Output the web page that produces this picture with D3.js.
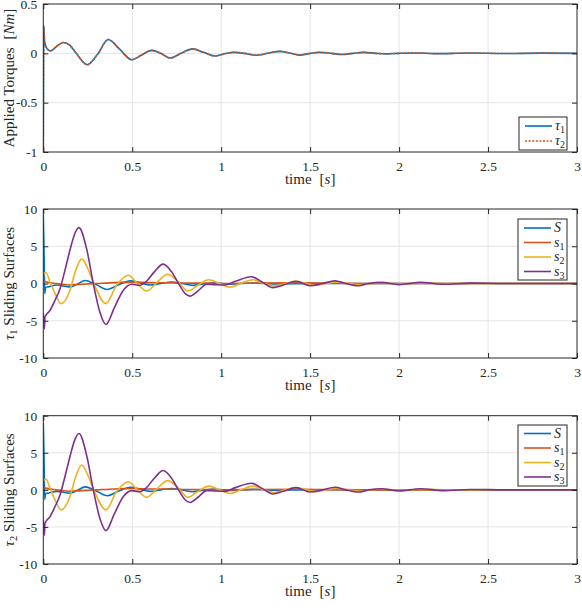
<!DOCTYPE html>
<html><head><meta charset="utf-8">
<script src="https://cdn.jsdelivr.net/npm/d3@7"></script>
<style>
body{margin:0;background:#fff}
svg{display:block}
text{font-family:"Liberation Serif","Times New Roman",serif;fill:#262626}
</style>
</head><body>
<svg id="c" width="582" height="610"></svg>
<script>
// ---------------- data ----------------
const xTicks = [0, 0.5, 1, 1.5, 2, 2.5, 3];
const yTicksTorque = [-1, -0.5, 0, 0.5];
const yTicksSurf = [-10, -5, 0, 5, 10];

// Applied torques [t, value]
const tau1 = [[0,-1],[0.003,0.28],[0.007,0.12],[0.02,0.05],[0.04,0.025],[0.075,0.07],[0.112,0.11],[0.15,0.08],[0.185,0.0],[0.247,-0.115],[0.305,-0.01],[0.365,0.14],[0.43,0.04],[0.497,-0.065],[0.55,-0.02],[0.609,0.03],[0.66,0.0],[0.712,-0.048],[0.775,0.0],[0.839,0.045],[0.9,0.01],[0.965,-0.027],[1.02,-0.005],[1.07,0.01],[1.13,0.0],[1.2,-0.02],[1.26,0.0],[1.33,0.02],[1.39,0.0],[1.44,-0.018],[1.5,0.0],[1.55,0.01],[1.62,0.0],[1.68,-0.012],[1.74,0.0],[1.8,0.01],[1.87,0.0],[1.93,-0.005],[2.0,0.0],[2.1,0.004],[2.2,-0.003],[2.4,0.003],[2.6,-0.002],[2.8,0.002],[3.0,0.0]];
const tau2 = [[0,-1],[0.003,0.27],[0.007,0.12],[0.02,0.05],[0.04,0.025],[0.075,0.07],[0.112,0.11],[0.15,0.08],[0.185,0.0],[0.247,-0.115],[0.305,-0.01],[0.365,0.14],[0.43,0.04],[0.497,-0.065],[0.55,-0.02],[0.609,0.03],[0.66,0.0],[0.712,-0.048],[0.775,0.0],[0.839,0.045],[0.9,0.01],[0.965,-0.027],[1.02,-0.005],[1.07,0.012],[1.13,0.0],[1.2,-0.018],[1.26,0.0],[1.33,0.02],[1.39,0.0],[1.44,-0.016],[1.5,0.0],[1.55,0.011],[1.62,0.0],[1.68,-0.01],[1.74,0.0],[1.8,0.01],[1.87,0.0],[1.93,-0.004],[2.0,0.0],[2.1,0.005],[2.2,-0.003],[2.4,0.003],[2.6,-0.002],[2.8,0.002],[3.0,0.0]];

// tau1 sliding surfaces
const t1S  = [[0,9.2],[0.004,4.5],[0.008,-1.35],[0.013,-0.5],[0.028,-0.45],[0.075,-0.2],[0.15,-0.45],[0.19,-0.1],[0.235,0.4],[0.29,-0.05],[0.36,-0.8],[0.42,-0.2],[0.49,0.35],[0.55,0.05],[0.6,-0.2],[0.66,0.0],[0.72,0.18],[0.78,0.0],[0.84,-0.25],[0.9,-0.05],[0.96,0.1],[1.05,-0.08],[1.18,0.06],[1.3,-0.05],[1.5,0.02],[1.8,-0.01],[2.2,0],[3,0]];
const t1s1 = [[0,0.4],[0.02,0.2],[0.075,0.0],[0.15,-0.2],[0.22,-0.1],[0.3,0.0],[0.4,0.12],[0.5,0.18],[0.6,0.12],[0.7,0.1],[0.8,0.05],[0.9,0.05],[1.0,0.0],[1.2,0.05],[1.45,0.08],[1.6,0.03],[1.8,0.0],[3,0]];
const t1s2 = [[0,0.9],[0.005,1.4],[0.015,1.45],[0.038,0.2],[0.066,-1.35],[0.1,-2.7],[0.15,-0.9],[0.18,1.6],[0.216,3.3],[0.25,2.0],[0.284,0.0],[0.352,-2.7],[0.41,-0.3],[0.478,1.1],[0.525,0.1],[0.581,-1.0],[0.637,0.1],[0.70,1.25],[0.76,0.2],[0.813,-1.0],[0.87,-0.2],[0.93,0.5],[0.99,0.0],[1.05,-0.5],[1.11,0.0],[1.18,0.5],[1.24,0.0],[1.3,-0.35],[1.36,0.0],[1.42,0.3],[1.48,0.0],[1.53,-0.25],[1.59,0.0],[1.65,0.2],[1.72,0.0],[1.78,-0.15],[1.85,0.0],[1.9,0.1],[2.0,-0.05],[2.1,0.05],[2.3,0],[3,0]];
const t1s3 = [[0,-4.0],[0.006,-6.1],[0.0095,-4.5],[0.038,-3.6],[0.066,-2.25],[0.094,-0.7],[0.122,1.8],[0.15,4.5],[0.178,6.75],[0.2,7.5],[0.245,4.5],[0.281,0.0],[0.32,-4.0],[0.352,-5.5],[0.4,-3.2],[0.45,-0.9],[0.497,-0.1],[0.54,-0.25],[0.58,0.3],[0.625,1.6],[0.674,2.6],[0.72,1.6],[0.76,0.0],[0.8,-1.4],[0.824,-1.7],[0.87,-1.0],[0.918,-0.1],[0.96,-0.15],[1.02,-0.2],[1.08,0.3],[1.17,0.9],[1.23,0.2],[1.29,-0.55],[1.35,-0.2],[1.42,0.3],[1.5,-0.3],[1.57,0.0],[1.64,0.35],[1.7,0.0],[1.77,-0.3],[1.83,0.0],[1.9,0.15],[2.0,-0.15],[2.12,0.15],[2.25,-0.1],[2.4,0.05],[2.6,0],[3,0]];

// tau2 sliding surfaces
const t2S  = [[0,9.0],[0.004,4.5],[0.008,-1.3],[0.013,-0.5],[0.028,-0.45],[0.075,-0.2],[0.15,-0.45],[0.19,-0.1],[0.235,0.4],[0.29,-0.05],[0.36,-0.8],[0.42,-0.2],[0.49,0.35],[0.55,0.05],[0.6,-0.2],[0.66,0.0],[0.72,0.18],[0.78,0.0],[0.84,-0.25],[0.9,-0.05],[0.96,0.1],[1.05,-0.08],[1.18,0.06],[1.3,-0.05],[1.5,0.02],[1.8,-0.01],[2.2,0],[3,0]];
const t2s1 = [[0,0.4],[0.02,0.2],[0.075,0.0],[0.15,-0.2],[0.22,-0.1],[0.3,0.0],[0.4,0.12],[0.5,0.18],[0.6,0.12],[0.7,0.1],[0.8,0.05],[0.9,0.05],[1.0,0.0],[1.2,0.05],[1.45,0.08],[1.6,0.03],[1.8,0.0],[3,0]];
const t2s2 = [[0,0.9],[0.005,1.4],[0.015,1.45],[0.038,0.2],[0.066,-1.35],[0.1,-2.7],[0.15,-0.9],[0.18,1.6],[0.216,3.35],[0.25,2.0],[0.284,0.0],[0.352,-2.7],[0.41,-0.3],[0.478,1.1],[0.525,0.1],[0.581,-1.0],[0.637,0.1],[0.70,1.25],[0.76,0.2],[0.813,-1.0],[0.87,-0.2],[0.93,0.5],[0.99,0.0],[1.05,-0.5],[1.11,0.0],[1.18,0.5],[1.24,0.0],[1.3,-0.35],[1.36,0.0],[1.42,0.3],[1.48,0.0],[1.53,-0.25],[1.59,0.0],[1.65,0.2],[1.72,0.0],[1.78,-0.15],[1.85,0.0],[1.9,0.1],[2.0,-0.05],[2.1,0.05],[2.3,0],[3,0]];
const t2s3 = [[0,-4.0],[0.006,-6.1],[0.0095,-4.5],[0.038,-3.6],[0.066,-2.25],[0.094,-0.7],[0.122,1.8],[0.15,4.5],[0.178,6.8],[0.2,7.6],[0.245,4.5],[0.281,0.0],[0.32,-4.0],[0.352,-5.5],[0.4,-3.2],[0.45,-0.9],[0.497,-0.1],[0.54,-0.25],[0.58,0.3],[0.625,1.6],[0.674,2.6],[0.72,1.6],[0.76,0.0],[0.8,-1.4],[0.824,-1.7],[0.87,-1.0],[0.918,-0.1],[0.96,-0.15],[1.02,-0.2],[1.08,0.3],[1.17,0.9],[1.23,0.2],[1.29,-0.55],[1.35,-0.2],[1.42,0.3],[1.5,-0.3],[1.57,0.0],[1.64,0.35],[1.7,0.0],[1.77,-0.3],[1.83,0.0],[1.9,0.15],[2.0,-0.15],[2.12,0.15],[2.25,-0.1],[2.4,0.05],[2.6,0],[3,0]];

// ---------------- drawing ----------------
const C = {blue:"#0072BD", orange:"#D95319", yellow:"#EDB120", purple:"#7E2F8E"};
const AX = "#262626", GRID = "#e4e4e4";
const svg = d3.select("#c");
const L = 43.3, R = 577;
const x = d3.scaleLinear().domain([0,3]).range([L,R]);
const fmt = d => String(d);

const panels = [
  {top:4, bottom:152, domain:[-1,0.5], yTicks:yTicksTorque, label:"torque",
   series:[{d:tau1,c:C.blue,dash:null,name:["τ","1"]},{d:tau2,c:C.orange,dash:"2,1.6",name:["τ","2"]}],
   legend:{x:519,y:117,w:48,h:33,ys:[126,141]}},
  {top:209, bottom:358, domain:[-10,10], yTicks:yTicksSurf, label:"1",
   series:[{d:t1S,c:C.blue,name:["S",null]},{d:t1s1,c:C.orange,name:["s","1"]},{d:t1s2,c:C.yellow,name:["s","2"]},{d:t1s3,c:C.purple,name:["s","3"]}],
   legend:{x:518,y:219,w:49,h:61,ys:[228,242.5,257,271.5]}},
  {top:415.7, bottom:564, domain:[-10,10], yTicks:yTicksSurf, label:"2",
   series:[{d:t2S,c:C.blue,name:["S",null]},{d:t2s1,c:C.orange,name:["s","1"]},{d:t2s2,c:C.yellow,name:["s","2"]},{d:t2s3,c:C.purple,name:["s","3"]}],
   legend:{x:518,y:425,w:49,h:61,ys:[433.5,448,462.5,477]}}
];

panels.forEach((p,i) => {
  const y = d3.scaleLinear().domain(p.domain).range([p.bottom,p.top]);
  const g = svg.append("g");
  // grid
  g.append("g").selectAll("line").data(xTicks.slice(1,-1)).join("line")
    .attr("x1",d=>x(d)).attr("x2",d=>x(d)).attr("y1",p.top).attr("y2",p.bottom)
    .attr("stroke",GRID).attr("stroke-width",1);
  g.append("g").selectAll("line").data(p.yTicks.slice(1,-1)).join("line")
    .attr("y1",d=>y(d)).attr("y2",d=>y(d)).attr("x1",L).attr("x2",R)
    .attr("stroke",GRID).attr("stroke-width",1);
  // clip
  const cid = "clip"+i;
  svg.append("clipPath").attr("id",cid).append("rect")
    .attr("x",L).attr("y",p.top-1).attr("width",R-L).attr("height",p.bottom-p.top+2);
  const line = d3.line().x(d=>x(d[0])).y(d=>y(d[1])).curve(d3.curveMonotoneX);
  const lg = g.append("g").attr("clip-path",`url(#${cid})`);
  p.series.forEach(s => {
    lg.append("path").attr("d",line(s.d)).attr("fill","none")
      .attr("stroke",s.c).attr("stroke-width",1.6)
      .attr("stroke-dasharray",s.dash||null).attr("stroke-linejoin","round");
  });
  // axes
  const ax = g.append("g").attr("transform",`translate(0,${p.bottom})`)
    .call(d3.axisBottom(x).tickValues(xTicks).tickFormat(fmt).tickSizeInner(-5).tickSizeOuter(0).tickPadding(9));
  const ay = g.append("g").attr("transform",`translate(${L},0)`)
    .call(d3.axisLeft(y).tickValues(p.yTicks).tickFormat(fmt).tickSizeInner(-5).tickSizeOuter(0).tickPadding(6));
  const at = g.append("g").attr("transform",`translate(0,${p.top})`)
    .call(d3.axisTop(x).tickValues(xTicks).tickFormat("").tickSizeInner(-5).tickSizeOuter(0));
  const ar = g.append("g").attr("transform",`translate(${R},0)`)
    .call(d3.axisRight(y).tickValues(p.yTicks).tickFormat("").tickSizeInner(-5).tickSizeOuter(0));
  [ax,ay,at,ar].forEach(a => {
    a.select(".domain").remove();
    a.selectAll("line").attr("stroke",AX).attr("stroke-width",1);
    a.selectAll("text").attr("fill",AX).style("font-family",'"Liberation Serif",serif').style("font-size","13.5px");
  });
  g.append("rect").attr("x",L).attr("y",p.top).attr("width",R-L).attr("height",p.bottom-p.top)
    .attr("fill","none").attr("stroke",AX).attr("stroke-width",1);

  // x label
  const xl = g.append("text").attr("x",(L+R)/2).attr("y",p.bottom+32).attr("text-anchor","middle").style("font-size","15px");
  xl.append("tspan").text("time");
  xl.append("tspan").attr("dx",8).text("[");
  xl.append("tspan").attr("font-style","italic").text("s");
  xl.append("tspan").text("]");

  // y label
  const yl = g.append("text").attr("transform",`translate(14,${(p.top+p.bottom)/2}) rotate(-90)`)
    .attr("text-anchor","middle").style("font-size","15px");
  if (p.label === "torque") {
    yl.append("tspan").text("Applied Torques");
    yl.append("tspan").attr("dx",8).text("[");
    yl.append("tspan").attr("font-style","italic").text("Nm");
    yl.append("tspan").text("]");
  } else {
    yl.append("tspan").attr("font-style","italic").text("τ");
    yl.append("tspan").attr("dy",3).style("font-size","10.5px").text(p.label);
    yl.append("tspan").attr("dy",-3).text(" Sliding Surfaces");
  }

  // legend
  const lgd = p.legend;
  g.append("rect").attr("x",lgd.x).attr("y",lgd.y).attr("width",lgd.w).attr("height",lgd.h)
    .attr("fill","#fff").attr("stroke",AX).attr("stroke-width",1);
  p.series.forEach((s,k) => {
    const yy = lgd.ys[k];
    g.append("line").attr("x1",lgd.x+6).attr("x2",lgd.x+33).attr("y1",yy).attr("y2",yy)
      .attr("stroke",s.c).attr("stroke-width",1.6).attr("stroke-dasharray",s.dash||null);
    const t = g.append("text").attr("x",lgd.x+36).attr("y",yy+4).style("font-size","14px");
    t.append("tspan").attr("font-style","italic").text(s.name[0]);
    if (s.name[1]) t.append("tspan").attr("dy",3).style("font-size","10px").text(s.name[1]);
  });
});
</script>
</body></html>
